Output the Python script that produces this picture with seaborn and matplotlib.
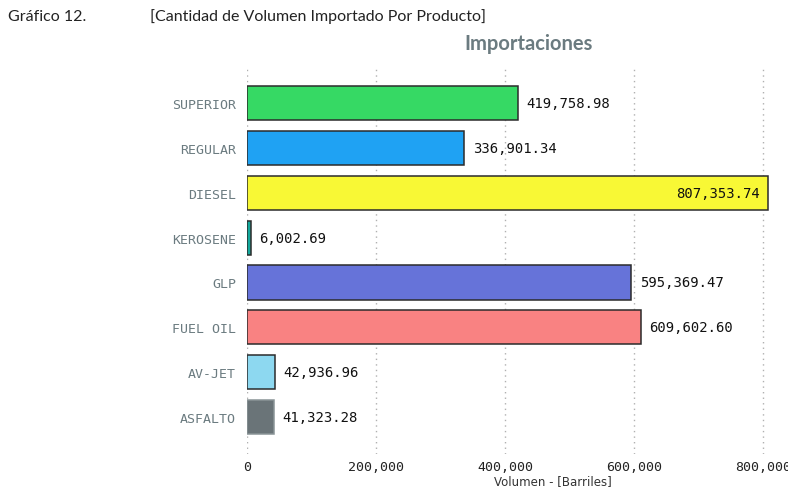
import matplotlib
matplotlib.use("Agg")
import matplotlib.pyplot as plt
import seaborn as sns
import pandas as pd
from matplotlib.ticker import FuncFormatter

productos = ["SUPERIOR", "REGULAR", "DIESEL", "KEROSENE", "GLP", "FUEL OIL", "AV-JET", "ASFALTO"]
volumen = [419758.98, 336901.34, 807353.74, 6002.69, 595369.47, 609602.60, 42936.96, 41323.28]
colores = ["#36d964", "#1fa2f3", "#f8f835", "#14a89c", "#6673d9", "#f98282", "#8dd8f0", "#6a7478"]
x_ticks = [0, 200000, 400000, 600000, 800000]

df = pd.DataFrame({"Producto": productos, "Volumen": volumen})

sns.set_theme(style="white")
fig = plt.figure(figsize=(7.88, 4.89), dpi=100)
ax = fig.add_axes([247/788, 1 - 455/489, 1 - 247/788, (455 - 68)/489])

sns.barplot(data=df, y="Producto", x="Volumen", hue="Producto", palette=colores,
            order=productos, hue_order=productos, orient="h", width=0.76,
            edgecolor="#2b2b2b", linewidth=1.1, legend=False, ax=ax, saturation=1)
for p, name in zip(ax.patches, productos):
    if name == "ASFALTO":
        p.set_edgecolor("#8a9497")

ax.set_xlim(0, 838000)
ax.set_ylim(7.82, -0.80)
ax.set_xticks(x_ticks)
ax.xaxis.set_major_formatter(FuncFormatter(lambda v, _: f"{int(v):,}"))
ax.grid(axis="x", linestyle=(0, (1, 3)), color="#b0b0b0", linewidth=1)
ax.grid(axis="y", visible=False)
for s in ax.spines.values():
    s.set_visible(False)
ax.tick_params(axis="y", length=0, pad=8, labelsize=9.5, labelcolor="#6b7b80")
ax.tick_params(axis="x", length=0, pad=4, labelsize=9.5, labelcolor="#222222")
for lab in ax.get_yticklabels() + ax.get_xticklabels():
    lab.set_fontfamily("DejaVu Sans Mono")
ax.set_ylabel("")
ax.set_xlabel("Volumen - [Barriles]", fontsize=8.5, color="#333333", fontfamily="DejaVu Sans")
ax.xaxis.set_label_coords((553 - 247) / (788 - 247), (455 - 482) / 387)
ax.xaxis.label.set_va("center")

for i, v in enumerate(volumen):
    txt = f"{v:,.2f}"
    if v > 750000:
        ax.annotate(txt, (v, i), xytext=(-6, 0), textcoords="offset points", ha="right",
                    va="center", fontsize=10, fontfamily="DejaVu Sans Mono", color="#111111")
    else:
        ax.annotate(txt, (v, i), xytext=(6, 0), textcoords="offset points", ha="left",
                    va="center", fontsize=10, fontfamily="DejaVu Sans Mono", color="#111111")

fig.text(8/788, 1 - 17/489, "Gráfico 12.", fontsize=11.5, fontfamily="Lato", color="#222222", va="center")
fig.text(150/788, 1 - 17/489, "[Cantidad de Volumen Importado Por Producto]", fontsize=11.5,
         fontfamily="Lato", color="#222222", va="center")
fig.text(529/788, 1 - 44/489, "Importaciones", fontsize=14.5, fontfamily="Lato", fontweight="bold",
         color="#6b7b80", va="center", ha="center")

fig.savefig("out.png", dpi=100)
